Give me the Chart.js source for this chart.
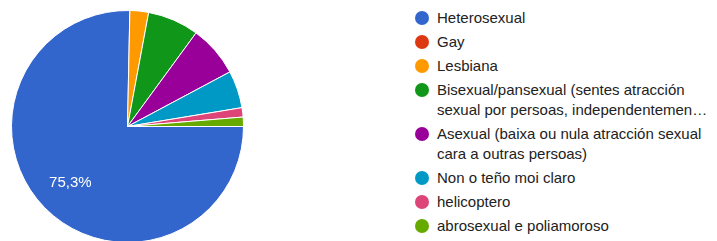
<!DOCTYPE html>
<html lang="gl">
<head>
    <meta charset="UTF-8">
    <title>Orientación sexual</title>
    <style>
        body {
            margin: 0;
            width: 717px;
            height: 241px;
            overflow: hidden;
            background: #fff;
            font-family: "Liberation Sans", Arial, sans-serif;
            position: relative;
        }
        #pieBox {
            position: absolute;
            left: 11px;
            top: 10px;
        }
        #legend {
            position: absolute;
            left: 415px;
            top: 8px;
            font-size: 15px;
            line-height: 20px;
            color: #222;
        }
        .item {
            display: flex;
            align-items: flex-start;
            margin-bottom: 4px;
        }
        .dot {
            width: 14px;
            height: 14px;
            border-radius: 50%;
            margin-top: 3px;
            margin-right: 8px;
            flex: none;
        }
    </style>
    <script src="https://cdn.jsdelivr.net/npm/chart.js"></script>
</head>
<body>

    <div id="pieBox">
        <canvas id="pieChart" width="233" height="233"></canvas>
    </div>
    <div id="legend"></div>

    <script>
        // categorías (cada etiqueta en liñas, como na lenda)
        const labels = [
            ["Heterosexual"],
            ["Gay"],
            ["Lesbiana"],
            ["Bisexual/pansexual (sentes atracción", "sexual por persoas, independentemen…"],
            ["Asexual (baixa ou nula atracción sexual", "cara a outras persoas)"],
            ["Non o teño moi claro"],
            ["helicoptero"],
            ["abrosexual e poliamoroso"]
        ];
        // respostas
        const counts = [116, 0, 4, 11, 11, 8, 2, 2];
        const colors = ["#3366cc", "#dc3912", "#ff9900", "#109618", "#990099", "#0099c6", "#dd4477", "#66aa00"];

        const total = counts.reduce((a, b) => a + b, 0);

        // lenda en HTML
        const legend = document.getElementById("legend");
        labels.forEach((lines, i) => {
            const item = document.createElement("div");
            item.className = "item";
            const dot = document.createElement("span");
            dot.className = "dot";
            dot.style.background = colors[i];
            const txt = document.createElement("span");
            txt.innerHTML = lines.join("<br>");
            item.appendChild(dot);
            item.appendChild(txt);
            legend.appendChild(item);
        });

        // porcentaxe dentro das porcións grandes
        const sliceLabels = {
            id: "sliceLabels",
            afterDatasetsDraw(chart) {
                const ctx = chart.ctx;
                const meta = chart.getDatasetMeta(0);
                ctx.save();
                ctx.fillStyle = "#fff";
                ctx.font = "15px 'Liberation Sans', Arial, sans-serif";
                ctx.textAlign = "center";
                ctx.textBaseline = "middle";
                meta.data.forEach((arc, i) => {
                    const pct = counts[i] / total * 100;
                    if (pct < 10) return;
                    const p = arc.getProps(["x", "y", "startAngle", "endAngle", "outerRadius"], true);
                    const mid = (p.startAngle + p.endAngle) / 2;
                    const r = p.outerRadius * 0.69;
                    const text = pct.toFixed(1).replace(".", ",") + "%";
                    ctx.fillText(text, p.x + Math.cos(mid) * r, p.y + Math.sin(mid) * r);
                });
                ctx.restore();
            }
        };

        new Chart(document.getElementById("pieChart"), {
            type: "pie",
            data: {
                labels: labels.map(l => l.join(" ")),
                datasets: [{
                    data: counts,
                    backgroundColor: colors,
                    borderColor: "#fff",
                    borderWidth: 1
                }]
            },
            options: {
                responsive: false,
                animation: false,
                rotation: 90,
                plugins: {
                    legend: { display: false },
                    tooltip: { enabled: false }
                }
            },
            plugins: [sliceLabels]
        });
    </script>

</body>
</html>
